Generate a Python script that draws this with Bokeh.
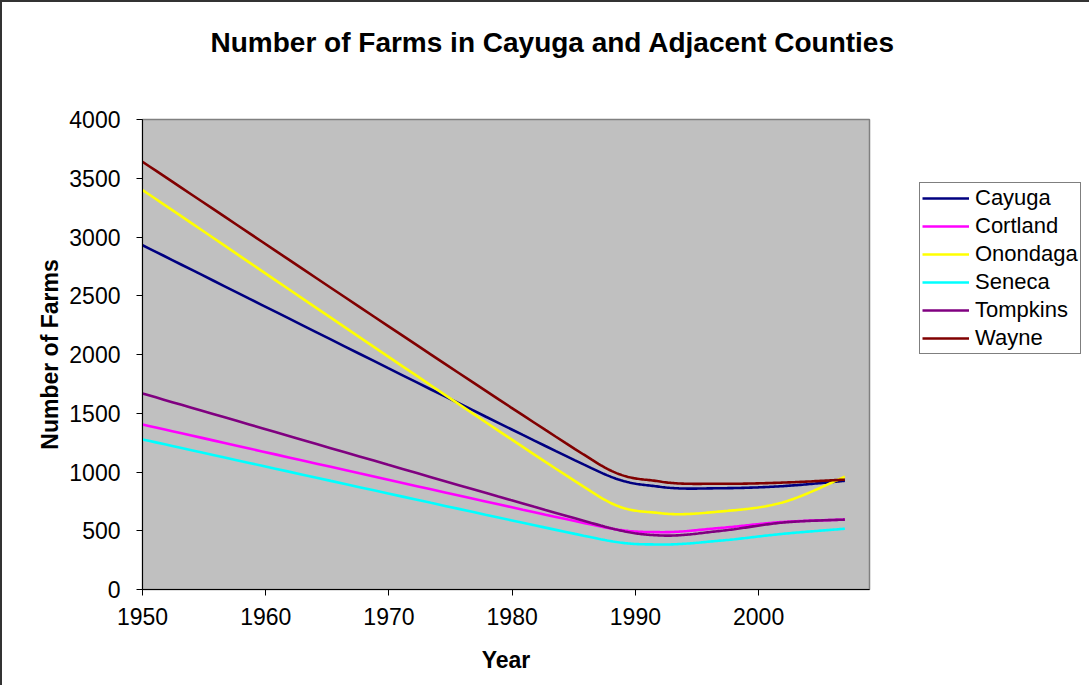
import numpy as np
from bokeh.plotting import figure
from bokeh.models import (Legend, LegendItem, Title, Range1d, FixedTicker)
from bokeh.embed import file_html
from bokeh.resources import INLINE

# ---- data ----
years = [1950, 1987, 1992, 1997, 2002, 2007]
counties = ["Cayuga", "Cortland", "Onondaga", "Seneca", "Tompkins", "Wayne"]
cayuga = [2930, 1005, 874, 862, 880, 925]
cortland = [1404, 540, 488, 525, 575, 595]
onondaga = [3400, 795, 650, 665, 743, 960]
seneca = [1277, 432, 383, 417, 474, 517]
tompkins = [1668, 550, 460, 500, 570, 595]
wayne = [3640, 1070, 919, 900, 910, 935]
series = [cayuga, cortland, onondaga, seneca, tompkins, wayne]
colors = ["#000080", "#FF00FF", "#FFFF00", "#00FFFF", "#800080", "#800000"]
x_ticks = [1950, 1960, 1970, 1980, 1990, 2000]
y_ticks = [0, 500, 1000, 1500, 2000, 2500, 3000, 3500, 4000]
title_text = "Number of Farms in Cayuga and Adjacent Counties"

FONT = "Liberation Sans"
X0, X1, Y0, Y1 = 1950, 2009, 0, 4000
FW, FH = 727, 470
SX = FW / (X1 - X0)
SY = FH / (Y1 - Y0)


def smooth(xs, ys, n=40):
    """Excel-style smoothed line (cubic Bezier between the data points)."""
    P = np.column_stack([np.asarray(xs, float) * SX, np.asarray(ys, float) * SY])
    m = len(P)
    outx, outy = [], []
    for i in range(m - 1):
        p0 = P[i - 1] if i > 0 else P[i]
        p1, p2 = P[i], P[i + 1]
        p3 = P[i + 2] if i + 2 < m else P[i + 1]
        d12 = np.linalg.norm(p2 - p1)
        d02 = np.linalg.norm(p2 - p0)
        d13 = np.linalg.norm(p3 - p1)
        f1 = 1 / 6
        f2 = 1 / 6
        if d02 / 6 > d12 / 2:
            f1 = d12 / (2 * d02)
        if d13 / 6 > d12 / 2:
            f2 = d12 / (2 * d13)
        c1 = p1 + f1 * (p2 - p0)
        c2 = p2 - f2 * (p3 - p1)
        t = np.linspace(0, 1, n)[:, None]
        if i > 0:
            t = t[1:]
        B = ((1 - t) ** 3) * p1 + 3 * ((1 - t) ** 2) * t * c1 + 3 * (1 - t) * t ** 2 * c2 + t ** 3 * p2
        outx.extend(B[:, 0] / SX)
        outy.extend(B[:, 1] / SY)
    return outx, outy


p = figure(frame_width=FW, frame_height=FH,
           min_border_left=140, min_border_right=216,
           min_border_top=117, min_border_bottom=96,
           x_range=Range1d(X0, X1), y_range=Range1d(Y0, Y1),
           output_backend="svg", toolbar_location=None,
           background_fill_color="#C0C0C0", border_fill_color="white")

p.xgrid.visible = False
p.ygrid.visible = False
p.outline_line_color = "#808080"
p.outline_line_width = 1.5

for ax, ticks in ((p.xaxis[0], x_ticks), (p.yaxis[0], y_ticks)):
    ax.ticker = FixedTicker(ticks=ticks)
    ax.major_tick_out = 6
    ax.major_tick_in = 0
    ax.minor_tick_line_color = None
    ax.axis_line_color = "black"
    ax.major_tick_line_color = "black"
    ax.major_label_text_font = FONT
    ax.major_label_text_font_size = "23px"
    ax.major_label_text_color = "black"
    ax.axis_label_text_font = FONT
    ax.axis_label_text_font_size = "23px"
    ax.axis_label_text_font_style = "bold"
    ax.axis_label_text_color = "black"

p.xaxis.major_label_standoff = 12
p.yaxis.major_label_standoff = 16
p.xaxis.axis_label = "Year"
p.yaxis.axis_label = "Number of Farms"
p.xaxis.axis_label_standoff = 19
p.yaxis.axis_label_standoff = 3

items = []
for name, ys, c in zip(counties, series, colors):
    sx_, sy_ = smooth(years, ys)
    r = p.line(sx_, sy_, line_color=c, line_width=2.6)
    items.append(LegendItem(label=name, renderers=[r]))

legend = Legend(items=items, location=(50, 235),
                border_line_color="black", border_line_width=1,
                background_fill_color="white", background_fill_alpha=1,
                padding=2, spacing=2, glyph_width=47, glyph_height=22,
                label_height=22, label_standoff=6, margin=0,
                label_text_font=FONT, label_text_font_size="22px",
                label_text_color="black")
p.add_layout(legend, "right")

# trailing empty lines keep the title high above the plot area
title = Title(text=title_text + "\n\n",
              align="left", offset=68, standoff=0,
              text_font=FONT, text_font_size="28px", text_font_style="bold",
              text_color="black")
p.add_layout(title, "above")

p.styles = {"border-left": "2px solid #333333", "border-top": "2px solid #333333"}

open("out.html", "w").write(file_html(p, INLINE))
